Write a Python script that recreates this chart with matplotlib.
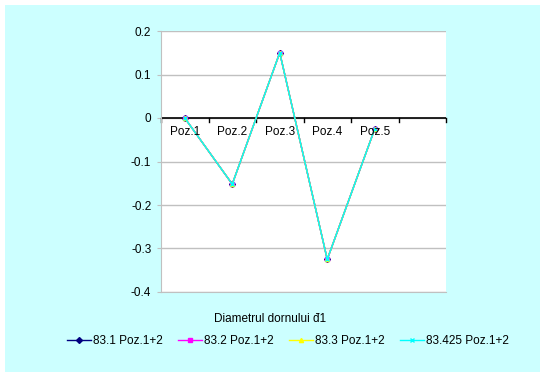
import numpy as np
import matplotlib.pyplot as plt
from matplotlib.patches import Rectangle

plt.rcParams['font.family'] = ['Liberation Sans', 'DejaVu Sans']

categories = ['Poz.1', 'Poz.2', 'Poz.3', 'Poz.4', 'Poz.5', '']
series_names = ['83.1 Poz.1+2', '83.2 Poz.1+2', '83.3 Poz.1+2', '83.425 Poz.1+2']
s_831 = [0.0, -0.152, 0.15, -0.325, -0.025]
s_832 = [0.0, -0.152, 0.15, -0.325, -0.025]
s_833 = [0.0, -0.152, 0.15, -0.325, -0.025]
s_83425 = [0.0, -0.152, 0.15, -0.325, -0.025]
y_ticks = [0.2, 0.1, 0, -0.1, -0.2, -0.3, -0.4]

colors = ['#000080', '#FF00FF', '#FFFF00', '#00FFFF']
markers = ['D', 's', '^', 'x']

fig = plt.figure(figsize=(5.4, 3.72), dpi=100)
fig.patch.set_facecolor('white')
bg = Rectangle((5 / 540, 0), 1, 1 - 5 / 372, transform=fig.transFigure,
               facecolor='#CCFFFF', edgecolor='none', zorder=-10)
fig.patches.append(bg)

ax = fig.add_axes([161 / 540, 1 - 292 / 372, 285 / 540, 261 / 372], zorder=5)
ax.set_facecolor('white')

x = np.arange(len(s_831)) + 0.5
for vals, name, c, m in zip([s_831, s_832, s_833, s_83425], series_names, colors, markers):
    ax.plot(x, vals, color=c, lw=1, marker=m, markersize=3, label=name, zorder=3)

ax.set_xlim(0, len(categories))
ax.set_ylim(-0.4, 0.2)
ax.set_yticks(y_ticks)
ax.set_yticklabels([f'{v:g}' for v in y_ticks], fontsize=8.5)
ax.yaxis.grid(True, color='#C0C0C0', lw=1)
ax.set_axisbelow(True)
ax.tick_params(axis='y', length=3, color='#C0C0C0', pad=4)

for side in ['top', 'right']:
    ax.spines[side].set_visible(False)
ax.spines['left'].set_color('#C0C0C0')
ax.spines['bottom'].set_color('#C0C0C0')

# category axis crosses at 0
ax.axhline(0, color='black', lw=1.2, zorder=2)
ax.set_xticks([])
for i in range(len(categories) + 1):
    ax.plot([i, i], [0, -0.009], color='black', lw=1, clip_on=False, zorder=2)
for i, lab in enumerate(categories):
    ax.text(i + 0.5, -0.018, lab, ha='center', va='top', fontsize=8.5)

fig.text(270 / 540, 1 - 319 / 372, 'Diametrul dornului đ1', ha='center', va='center', fontsize=8.5)

leg = fig.legend(loc='center', bbox_to_anchor=(288 / 540, 1 - 341 / 372), ncol=4,
                 frameon=False, fontsize=8.5, handlelength=2.0, handletextpad=0.2,
                 columnspacing=1.3, markerscale=1)

fig.savefig('out.png', dpi=100, facecolor=fig.get_facecolor())
